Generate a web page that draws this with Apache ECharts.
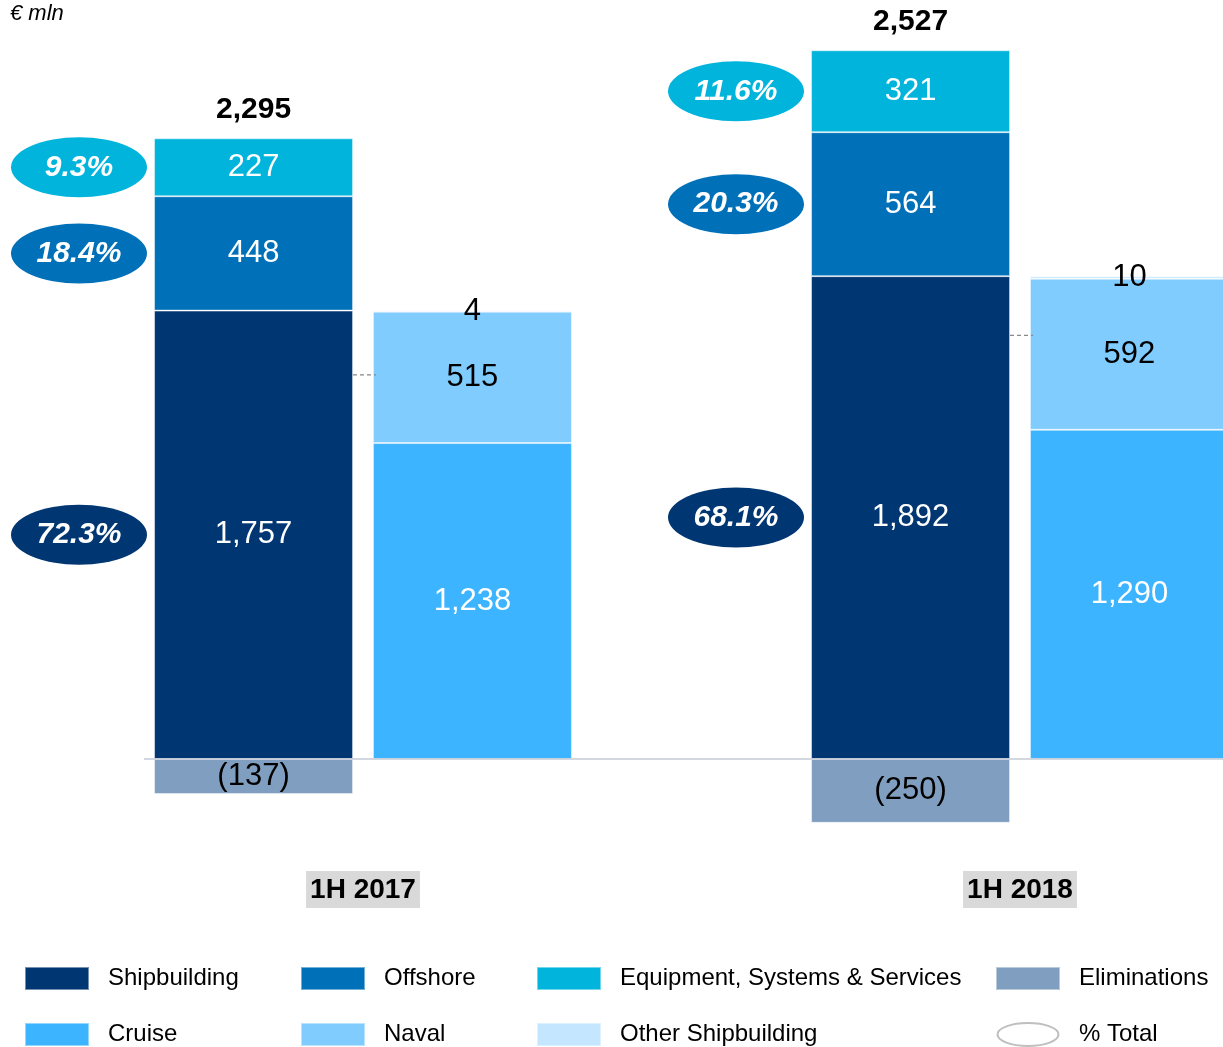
<!DOCTYPE html>
<html><head><meta charset="utf-8">
<script src="https://cdn.jsdelivr.net/npm/echarts@6/dist/echarts.min.js"></script>
<style>html,body{margin:0;padding:0;background:#fff}#c{width:1223px;height:1047px}</style>
</head><body><div id="c"></div>
<script>
// ---- data ----
const categories = ['1H 2017', '1H 2018'];
const shipbuilding = [1757, 1892];
const offshore = [448, 564];
const equipment = [227, 321];
const eliminations = [-137, -250];
const cruise = [1238, 1290];
const naval = [515, 592];
const otherShipbuilding = [4, 10];
const totals = [2295, 2527];
const pctShipbuilding = [72.3, 68.1];
const pctOffshore = [18.4, 20.3];
const pctEquipment = [9.3, 11.6];
const connectorLevels = [1505, 1660];
const unitLabel = '€ mln';

// ---- styles ----
const FONT = '"Liberation Sans", Arial, Helvetica, sans-serif';
const C = {ship:'#003671', off:'#0070b8', ess:'#00b4dc', elim:'#809fc0', cruise:'#3cb4ff', naval:'#80ccff', other:'#c4e6ff'};
const ELLIPSE = 'path://M0,30A68,30,0,1,1,136,30A68,30,0,1,1,0,30Z';
const ELLIPSE_ICON = 'path://M0,11.5A30.5,11.5,0,1,1,61,11.5A30.5,11.5,0,1,1,0,11.5Z';

function fmt(v){ const s = Math.abs(v).toLocaleString('en-US'); return v < 0 ? '(' + s + ')' : s; }
function barSeries(name, data, stack, color, labelColor){
  return {
    name, type:'bar', stack, data, barWidth:199, barGap:'10%',
    itemStyle:{color, borderColor:'rgba(255,255,255,0.45)', borderWidth:1},
    label:{show:true, position:'inside', color:labelColor, fontFamily:FONT, fontSize:31, formatter:p => fmt(p.value)},
    emphasis:{disabled:true}
  };
}

const pctData = [];
categories.forEach((c, i) => {
  const s = shipbuilding[i], o = offshore[i], e = equipment[i];
  pctData.push({value:[c, s / 2], pct:pctShipbuilding[i], itemStyle:{color:C.ship}});
  pctData.push({value:[c, s + o / 2], pct:pctOffshore[i], itemStyle:{color:C.off}});
  pctData.push({value:[c, s + o + e / 2], pct:pctEquipment[i], itemStyle:{color:C.ess}});
});

const legendBase = {
  orient:'vertical', bottom:0, padding:0, itemWidth:64, itemHeight:23, itemGap:31, icon:'rect',
  selectedMode:false,
  textStyle:{fontFamily:FONT, fontSize:24, lineHeight:23, color:'#000', padding:[0,0,0,14]}
};
const legendCols = [
  {left:24, data:['Shipbuilding', 'Cruise']},
  {left:300, data:['Offshore', 'Naval']},
  {left:536, data:['Equipment, Systems & Services', 'Other Shipbuilding']},
  {left:995, data:['Eliminations', {name:'% Total', icon:ELLIPSE_ICON, itemStyle:{color:'#ffffff', borderColor:'#bfbfbf', borderWidth:2}}]}
];

const chart = echarts.init(document.getElementById('c'), null, {renderer:'canvas'});
chart.setOption({
  animation:false,
  backgroundColor:'#fff',
  title:{text:unitLabel, left:10, top:3, padding:0, textStyle:{fontFamily:FONT, fontSize:22, fontStyle:'italic', fontWeight:'normal', color:'#000'}},
  grid:{left:34.5, top:18.9, width:1314, height:842.2, outerBoundsMode:'none', containLabel:false},
  xAxis:{type:'category', data:categories, axisLine:{show:false, onZero:false}, axisTick:{show:false},
    axisLabel:{margin:10, fontFamily:FONT, fontSize:28, fontWeight:'bold', color:'#000', backgroundColor:'#d9d9d9', padding:[5,4,4,4]},
    splitLine:{show:false}},
  yAxis:{type:'value', min:-400, max:2900, show:false, splitLine:{show:false}},
  legend:legendCols.map(l => Object.assign({}, legendBase, l)),
  series:[
    barSeries('Shipbuilding', shipbuilding, 'A', C.ship, '#fff'),
    barSeries('Offshore', offshore, 'A', C.off, '#fff'),
    barSeries('Equipment, Systems & Services', equipment, 'A', C.ess, '#fff'),
    {name:'Total', type:'bar', stack:'A', data:totals.map(() => 0), barWidth:199, barGap:'10%',
      itemStyle:{color:'rgba(0,0,0,0)'},
      label:{show:true, position:'top', distance:14, fontFamily:FONT, fontSize:30, fontWeight:'bold', color:'#000',
        formatter:p => fmt(totals[p.dataIndex])}},
    barSeries('Eliminations', eliminations, 'A', C.elim, '#000'),
    barSeries('Cruise', cruise, 'B', C.cruise, '#fff'),
    barSeries('Naval', naval, 'B', C.naval, '#000'),
    barSeries('Other Shipbuilding', otherShipbuilding, 'B', C.other, '#000'),
    {name:'% Total', type:'scatter', data:pctData, symbol:ELLIPSE, symbolSize:[136, 60], symbolOffset:[-284, 0],
      clip:false, z:5, itemStyle:{opacity:1},
      label:{show:true, position:'inside', color:'#fff', fontFamily:FONT, fontSize:30, fontWeight:'bold', fontStyle:'italic',
        formatter:p => p.data.pct.toFixed(1) + '%'},
      emphasis:{disabled:true}}
  ]
});

// decorative lines positioned through the chart's own scales
const y0 = chart.convertToPixel({yAxisIndex:0}, 0);
const cx = categories.map(c => chart.convertToPixel({xAxisIndex:0}, c));
const graphics = [{type:'line', z:10, shape:{x1:cx[0] - 219, y1:y0, x2:1223, y2:y0}, style:{stroke:'#c5cad6', lineWidth:1.5}}];
connectorLevels.forEach((lv, i) => {
  const y = chart.convertToPixel({yAxisIndex:0}, lv);
  graphics.push({type:'line', z:10, shape:{x1:cx[i] - 10, y1:y, x2:cx[i] + 13, y2:y}, style:{stroke:'#888', lineWidth:1.2, lineDash:[4,3]}});
});
chart.setOption({graphic:graphics});
</script>
</body></html>
